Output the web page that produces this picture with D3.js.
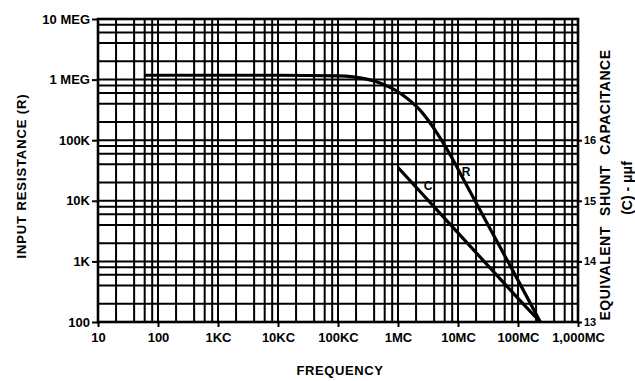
<!DOCTYPE html>
<html><head><meta charset="utf-8">
<script src="https://cdn.jsdelivr.net/npm/d3@7"></script>
<style>
body{margin:0;background:#fff}
svg text{font-family:"Liberation Sans",Arial,sans-serif;font-weight:bold;fill:#000}
</style></head><body>
<svg id="c" width="635" height="381"></svg>
<script>
// ---- data ----
const freqTicks = [10, 100, 1e3, 1e4, 1e5, 1e6, 1e7, 1e8, 1e9];
const freqLabels = ["10", "100", "1KC", "10KC", "100KC", "1MC", "10MC", "100MC", "1,000MC"];
const resTicks = [100, 1e3, 1e4, 1e5, 1e6, 1e7];
const resLabels = ["100", "1K", "10K", "100K", "1 MEG", "10 MEG"];
const capTicks = [13, 14, 15, 16];
const capLabels = ["13", "14", "15", "16"];
const gridMultipliers = [1, 2, 4, 6, 8];

// R curve: frequency (Hz) vs input resistance (ohms)
const rFreq   = [60, 1e3, 1e4, 1e5, 3e5, 4.5e5, 1.1e6, 2.35e6, 4.5e6, 8.3e6, 1.1e7, 2.35e7, 5e7, 1.1e8, 2.35e8];
const rValues = [1.18e6, 1.18e6, 1.18e6, 1.15e6, 1.02e6, 9.1e5, 5.9e5, 3.1e5, 1.3e5, 4.7e4, 2.8e4, 6.9e3, 1.74e3, 410, 100];
// C line: frequency (Hz) vs equivalent shunt capacitance (uuf)
const cFreq   = [1e6, 1e7, 1e8, 2.35e8];
const cValues = [15.55, 14.47, 13.39, 13.0];

// ---- chart ----
const svg = d3.select("#c");
const L = 98, R = 578, T = 19, B = 322;
const x = d3.scaleLog().domain([10, 1e9]).range([L, R]);
const y = d3.scaleLog().domain([100, 1e7]).range([B, T]);
const yC = d3.scaleLinear().domain([13, 18]).range([B, T]);

const g = svg.append("g");

// grid
const vLines = [];
freqTicks.forEach(d => gridMultipliers.forEach(m => { const v = d * m; if (v > 10 && v < 1e9) vLines.push(v); }));
const hLines = [];
resTicks.forEach(d => gridMultipliers.forEach(m => { const v = d * m; if (v > 100 && v < 1e7) hLines.push(v); }));

g.selectAll("line.v").data(vLines).join("line").attr("class", "v")
  .attr("x1", d => x(d)).attr("x2", d => x(d)).attr("y1", T).attr("y2", B)
  .attr("stroke", "#000").attr("stroke-width", 2);
g.selectAll("line.h").data(hLines).join("line").attr("class", "h")
  .attr("y1", d => y(d)).attr("y2", d => y(d)).attr("x1", L).attr("x2", R)
  .attr("stroke", "#000").attr("stroke-width", 2);

// border
g.append("rect").attr("x", L).attr("y", T).attr("width", R - L).attr("height", B - T)
  .attr("fill", "none").attr("stroke", "#000").attr("stroke-width", 2.6);

// axes
const ax = svg.append("g").attr("transform", `translate(0,${B})`)
  .call(d3.axisBottom(x).tickValues(freqTicks).tickFormat((d, i) => freqLabels[i]).tickSize(5).tickPadding(6));
const ay = svg.append("g").attr("transform", `translate(${L},0)`)
  .call(d3.axisLeft(y).tickValues(resTicks).tickFormat((d, i) => resLabels[i]).tickSize(6).tickPadding(2));
const ac = svg.append("g").attr("transform", `translate(${R},0)`)
  .call(d3.axisRight(yC).tickValues(capTicks).tickFormat((d, i) => capLabels[i]).tickSize(4).tickPadding(2));
[[ax, "13px"], [ay, "13px"], [ac, "11px"]].forEach(([a, fs]) => {
  a.select(".domain").remove();
  a.selectAll(".tick line").attr("stroke", "#000").attr("stroke-width", 2);
  a.selectAll(".tick text").style("font-size", fs).style("font-family", '"Liberation Sans",Arial,sans-serif')
    .style("font-weight", "bold").attr("fill", "#000");
});

// curves
const rData = rFreq.map((f, i) => [f, rValues[i]]);
const cData = cFreq.map((f, i) => [f, cValues[i]]);
g.append("path").datum(rData)
  .attr("d", d3.line().x(d => x(d[0])).y(d => y(d[1])).curve(d3.curveMonotoneX))
  .attr("fill", "none").attr("stroke", "#000").attr("stroke-width", 3.2);
g.append("path").datum(cData)
  .attr("d", d3.line().x(d => x(d[0])).y(d => yC(d[1])))
  .attr("fill", "none").attr("stroke", "#000").attr("stroke-width", 3.2);

// curve labels
svg.append("text").attr("x", x(1.36e7)).attr("y", y(3e4)).attr("text-anchor", "middle").attr("dy", "0.35em")
  .style("font-size", "12px").text("R");
svg.append("text").attr("x", x(3.16e6)).attr("y", yC(15.24)).attr("text-anchor", "middle").attr("dy", "0.35em")
  .style("font-size", "12px").text("C");

// axis titles
svg.append("text").attr("x", 340).attr("y", 370).attr("dy", "0.35em").attr("text-anchor", "middle")
  .style("font-size", "13px").style("letter-spacing", "0.6px").text("FREQUENCY");
svg.append("text").attr("transform", "translate(21,176) rotate(-90)").attr("dy", "0.35em").attr("text-anchor", "middle")
  .style("font-size", "13px").style("letter-spacing", "0.9px").text("INPUT RESISTANCE (R)");
svg.append("text").attr("transform", "translate(605,185) rotate(-90)").attr("dy", "0.35em").attr("text-anchor", "middle")
  .style("font-size", "14px").style("letter-spacing", "0.5px").style("word-spacing", "6px").text("EQUIVALENT SHUNT CAPACITANCE");
svg.append("text").attr("transform", "translate(627,188) rotate(-90)").attr("dy", "0.35em").attr("text-anchor", "middle")
  .style("font-size", "14px").text("(C) - μμf");
</script>
</body></html>
